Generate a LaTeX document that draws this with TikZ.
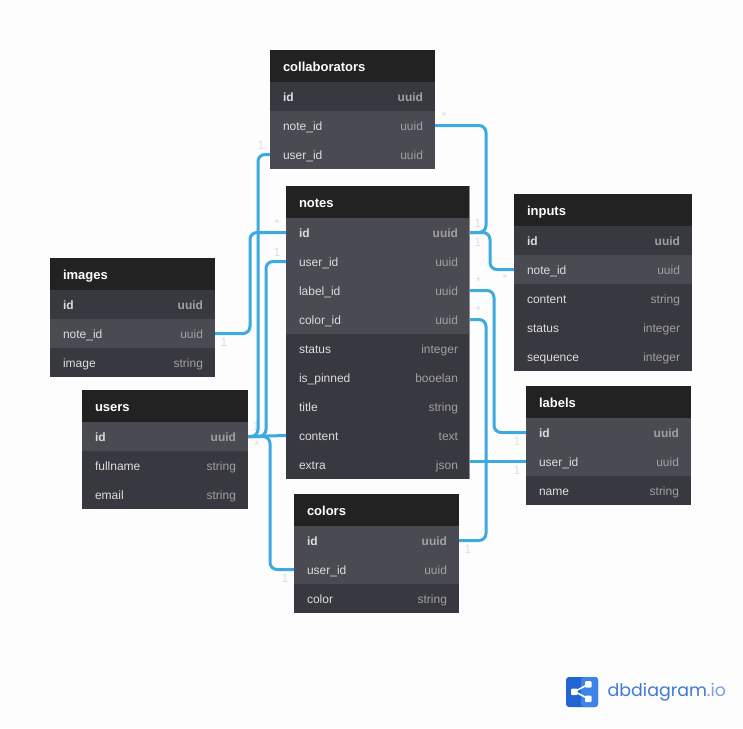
\documentclass[tikz,border=0pt]{standalone}
\usepackage{fontspec}
\setmainfont{Liberation Sans}
\newfontfamily\logofont{Poppins}
\usetikzlibrary{positioning, calc}

\definecolor{pagebg}{HTML}{FDFDFD}
\definecolor{headfill}{HTML}{222222}
\definecolor{rowdark}{HTML}{383840}
\definecolor{rowlight}{HTML}{4A4A52}
\definecolor{fieldtext}{HTML}{DCDCDC}
\definecolor{typetext}{HTML}{A0A0A0}
\definecolor{relblue}{HTML}{3CA9E0}
\definecolor{cardtext}{HTML}{DEDEDE}
\definecolor{logoblue}{HTML}{3F78D8}
\definecolor{logodark}{HTML}{2264D1}
\definecolor{logolight}{HTML}{3C84E6}

\tikzset{
    tablebox/.style={anchor=north west, inner xsep=12.5pt, inner ysep=0pt, outer sep=0pt, text width=#1pt-25pt},
    tablehead/.style={tablebox=#1, fill=headfill, minimum height=32pt, text=white, font=\fontsize{13}{15}\selectfont\bfseries},
    tablerow/.style={tablebox=#1, minimum height=29pt, text=fieldtext, font=\fontsize{12}{14}\selectfont},
    relline/.style={draw=relblue, line width=3pt, rounded corners=7pt},
    cardmark/.style={text=cardtext, inner sep=0pt, font=\fontsize{12}{13}\selectfont}
}

\newcommand{\rowstrut}{\hspace*{0.5pt}\rule[-2.4pt]{0pt}{14.4pt}}
\newcommand{\headstrut}{\hspace*{0.5pt}\rule[-2.4pt]{0pt}{16.4pt}}

% header plus one row node per field, stacked
\newcommand{\dbtable}[4]{
    \node[tablehead=#3] (#1-head) at (#2) {\headstrut #1};
    \foreach \field/\ftype/\rowshade/\rowfont [remember=\field as \prev (initially head)] in {#4} {
        \node[tablerow=#3, fill=\rowshade, below=0pt of #1-\prev] (#1-\field)
            {\rowfont\rowstrut\detokenize\expandafter{\field}\hfill\textcolor{typetext}{\ftype}\hspace*{-0.5pt}};
    }
}

\begin{document}
\begin{tikzpicture}[x=1pt, y=-1pt]
    \fill[pagebg] (0,0) rectangle (743,728);
    \useasboundingbox (0,0) rectangle (743,728);

    \dbtable{collaborators}{270,50}{165}{id/uuid/rowdark/\bfseries, note_id/uuid/rowlight/\mdseries, user_id/uuid/rowlight/\mdseries}
    \dbtable{notes}{286,186}{184}{id/uuid/rowlight/\bfseries, user_id/uuid/rowlight/\mdseries, label_id/uuid/rowlight/\mdseries, color_id/uuid/rowlight/\mdseries, status/integer/rowdark/\mdseries, is_pinned/booelan/rowdark/\mdseries, title/string/rowdark/\mdseries, content/text/rowdark/\mdseries, extra/json/rowdark/\mdseries}
    \dbtable{images}{50,258}{165}{id/uuid/rowdark/\bfseries, note_id/uuid/rowlight/\mdseries, image/string/rowdark/\mdseries}
    \dbtable{users}{82,390}{166}{id/uuid/rowlight/\bfseries, fullname/string/rowdark/\mdseries, email/string/rowdark/\mdseries}
    \dbtable{inputs}{514,194}{178}{id/uuid/rowdark/\bfseries, note_id/uuid/rowlight/\mdseries, content/string/rowdark/\mdseries, status/integer/rowdark/\mdseries, sequence/integer/rowdark/\mdseries}
    \dbtable{labels}{526,386}{165}{id/uuid/rowlight/\bfseries, user_id/uuid/rowlight/\mdseries, name/string/rowdark/\mdseries}
    \dbtable{colors}{294,494}{165}{id/uuid/rowlight/\bfseries, user_id/uuid/rowlight/\mdseries, color/string/rowdark/\mdseries}

    \draw[black!45, line width=1pt] ($(notes-head.north east)+(-0.5,0)$) -- ($(notes-extra.south east)+(-0.5,0)$);

    % cardinality marks
    \foreach \cx/\cy [count=\i] in {261/145, 277/252, 478/223, 478/242, 517/441, 517/470, 468/549, 224/342, 256/426, 285/578}
        \node[cardmark] (one\i) at (\cx,\cy) {1};
    \foreach \cx/\cy [count=\i] in {444/116, 277/223, 505/278, 478.5/281, 478.5/310, 257/445}
        \node[cardmark] (many\i) at (\cx,\cy) {*};

    % vertical channels of the connectors
    \coordinate (chanimages) at (250,0);
    \coordinate (chancollab) at (258,0);
    \coordinate (chanuser) at (266,0);
    \coordinate (chancolors) at (270,0);
    \coordinate (chanright) at (486,0);
    \coordinate (chaninputs) at (490,0);
    \coordinate (chanlabels) at (494,0);

    \draw[relline] (collaborators-note_id.east) -- (collaborators-note_id.east -| chanright) -- (notes-id.east -| chanright) -- (notes-id.east);
    \draw[relline] (notes-id.east) -- (notes-id.east -| chaninputs) -- (inputs-note_id.west -| chaninputs) -- (inputs-note_id.west);
    \draw[relline] (notes-label_id.east) -- (notes-label_id.east -| chanlabels) -- (labels-id.west -| chanlabels) -- (labels-id.west);
    \draw[relline] (notes-color_id.east) -- (notes-color_id.east -| chanright) -- (colors-id.east -| chanright) -- (colors-id.east);
    \draw[relline] (labels-user_id.west) -- (labels-user_id.west -| notes-extra.east);
    \draw[relline] (collaborators-user_id.west) -- (collaborators-user_id.west -| chancollab) -- (users-id.east -| chancollab) -- (users-id.east);
    \draw[relline] (images-note_id.east) -- (images-note_id.east -| chanimages) -- (notes-id.west -| chanimages) -- (notes-id.west);
    \draw[relline] (users-id.east) -- (users-id.east -| chanuser) -- (notes-user_id.west -| chanuser) -- (notes-user_id.west);
    \draw[relline] (users-id.east) -- (notes-content.west);
    \draw[relline] (users-id.east) -- (users-id.east -| chancolors) -- (colors-user_id.west -| chancolors) -- (colors-user_id.west);

    % logo
    \fill[logodark, rounded corners=3pt] (566,677) rectangle (598,707);
    \fill[logolight, rounded corners=3pt] (581,677) rectangle (598,707);
    \draw[white, line width=1.6pt] (574.5,691.5) -- (588,684.5) (574.5,691.5) -- (588,698.5);
    \fill[white, rounded corners=1pt] (571,688.5) rectangle (577.5,695);
    \fill[white, rounded corners=1pt] (585,681) rectangle (591.5,687.5);
    \fill[white, rounded corners=1pt] (585,695.5) rectangle (591.5,702);
    \node[anchor=west, inner sep=0pt, text=logoblue, font=\logofont\fontsize{17.4}{20}\selectfont] (logotext) at (607.5,692) {dbdiagram\textcolor{logoblue!70!white}{.io}};
\end{tikzpicture}
\end{document}
